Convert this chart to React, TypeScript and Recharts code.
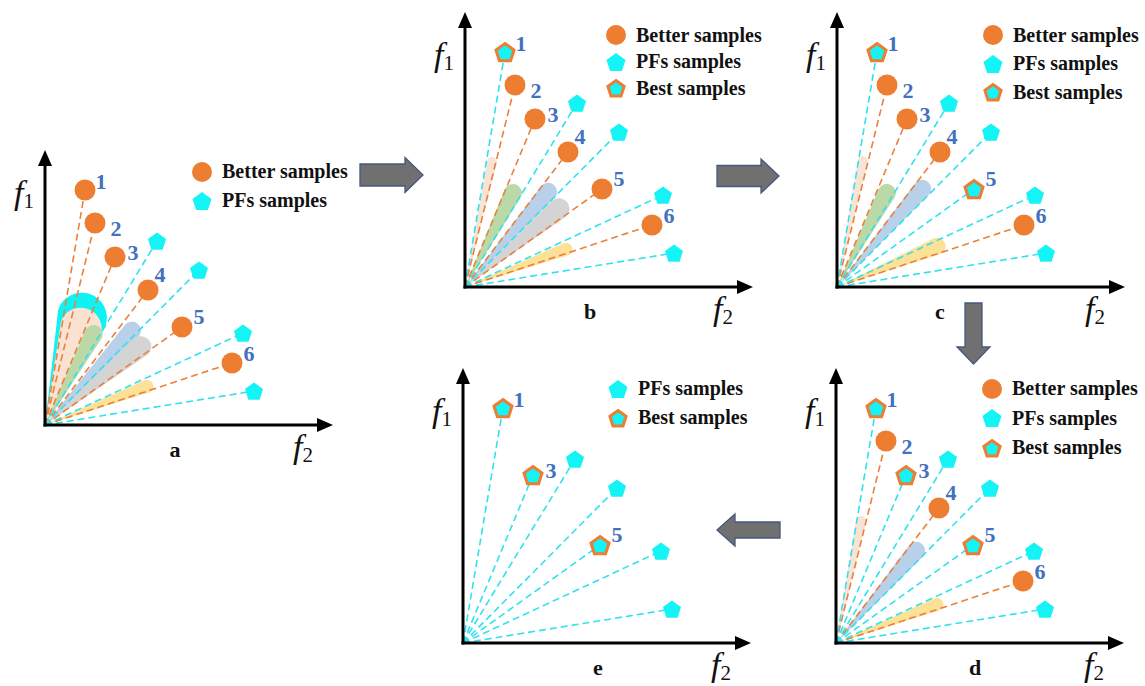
import React from "react";
import { ScatterChart, Scatter, XAxis, YAxis, ReferenceLine, Legend } from "recharts";

// candidate samples, in each panel's own (f2, f1) frame
const SAMPLE_IDS = [1, 2, 3, 4, 5, 6];
const SAMPLE_F2 = [40, 50, 70, 103, 137, 187];
const SAMPLE_F1 = [235, 202, 168, 135, 98, 62];

// Pareto-front reference samples
const PF_F2 = [112, 154, 198, 209];
const PF_F1 = [184, 155, 92, 34];

const PANEL_KEYS = ["a", "b", "c", "d", "e"] as const;
type PanelKey = (typeof PANEL_KEYS)[number];

const BETTER_IDS: Record<PanelKey, number[]> = {
  a: [1, 2, 3, 4, 5, 6],
  b: [2, 3, 4, 5, 6],
  c: [2, 3, 4, 6],
  d: [2, 4, 6],
  e: [],
};

const BEST_IDS: Record<PanelKey, number[]> = {
  a: [],
  b: [1],
  c: [1, 5],
  d: [1, 3, 5],
  e: [1, 3, 5],
};

const LEGEND_ITEMS: Record<PanelKey, string[]> = {
  a: ["Better samples", "PFs samples"],
  b: ["Better samples", "PFs samples", "Best samples"],
  c: ["Better samples", "PFs samples", "Best samples"],
  d: ["Better samples", "PFs samples", "Best samples"],
  e: ["PFs samples", "Best samples"],
};

// shaded search regions, given by the tip of each petal
type Petal = { kind: string; f2: number; f1: number };
const PETALS: Record<PanelKey, Petal[]> = {
  a: [
    { kind: "cyanFan", f2: 45, f1: 131 },
    { kind: "peachFan", f2: 43, f1: 116 },
    { kind: "green", f2: 53, f1: 99 },
    { kind: "blue", f2: 93, f1: 101 },
    { kind: "gray", f2: 104, f1: 85 },
    { kind: "yellow", f2: 108, f1: 41 },
  ],
  b: [
    { kind: "peach", f2: 28, f1: 130 },
    { kind: "green", f2: 52, f1: 102 },
    { kind: "blue", f2: 89, f1: 102 },
    { kind: "gray", f2: 102, f1: 85 },
    { kind: "yellow", f2: 107, f1: 40 },
  ],
  c: [
    { kind: "peach", f2: 27, f1: 131 },
    { kind: "green", f2: 54, f1: 102 },
    { kind: "blue", f2: 91, f1: 105 },
    { kind: "yellowWide", f2: 108, f1: 44 },
  ],
  d: [
    { kind: "peach", f2: 26, f1: 127 },
    { kind: "blue", f2: 86, f1: 99 },
    { kind: "yellow", f2: 107, f1: 41 },
  ],
  e: [],
};

const PETAL_STYLE: Record<string, { fill: string; width: number }> = {
  cyanFan: { fill: "#0FF2F4", width: 50 },
  peachFan: { fill: "#F9E2D2", width: 42 },
  peach: { fill: "#F8E3D4", width: 10 },
  green: { fill: "#BBD9A6", width: 18 },
  blue: { fill: "#B9D0EA", width: 18 },
  gray: { fill: "#D4D4D4", width: 21 },
  yellow: { fill: "#FCE196", width: 13 },
  yellowWide: { fill: "#FCE196", width: 17 },
};

// where each panel's origin sits on the page, plus its legend / caption placement
const PANEL_LAYOUT: Record<PanelKey, { ox: number; oy: number; legendX: number; legendY: number; rowGap: number; letterDx: number }> = {
  a: { ox: 45, oy: 425, legendX: 190, legendY: 157, rowGap: 29, letterDx: 130 },
  b: { ox: 465, oy: 287, legendX: 604, legendY: 22, rowGap: 26.5, letterDx: 125 },
  c: { ox: 837, oy: 287, legendX: 981, legendY: 21, rowGap: 28.5, letterDx: 103 },
  d: { ox: 836, oy: 643, legendX: 980, legendY: 374, rowGap: 29.5, letterDx: 139 },
  e: { ox: 463, oy: 643, legendX: 606, legendY: 374, rowGap: 29, letterDx: 135 },
};

// number label offset from the marker centre, by sample id
const LABEL_OFFSET: Record<number, [number, number]> = {
  1: [16, -9],
  2: [21, 5],
  3: [18, -5],
  4: [12, -16],
  5: [17, -11],
  6: [17, -10],
};

const X_MAX = 300;
const Y_MAX = 285;
const X_AXIS_LEN = 288;
const Y_AXIS_LEN = 275;
const ML = 40;
const MR = 10;
const MT = 0;
const MB = 45;
const CHART_W = ML + X_MAX + MR;
const CHART_H = MT + Y_MAX + MB;

const SERIF = '"Liberation Serif", "Times New Roman", serif';
const ORANGE = "#ED7D31";
const ORANGE_LINE = "#E8823C";
const CYAN = "#14F3F6";
const CYAN_LINE = "#30E2EE";
const LABEL_BLUE = "#4470C0";

const samplePoint = (id: number) => {
  const i = SAMPLE_IDS.indexOf(id);
  return { id, f2: SAMPLE_F2[i], f1: SAMPLE_F1[i] };
};
const pfPoints = PF_F2.map((f2, i) => ({ id: 0, f2, f1: PF_F1[i] }));

const pentagonPoints = (cx: number, cy: number, r: number) =>
  Array.from({ length: 5 }, (_, i) => {
    const a = -Math.PI / 2 + (i * 2 * Math.PI) / 5;
    return `${cx + r * Math.cos(a)},${cy + r * Math.sin(a)}`;
  }).join(" ");

const SampleLabel = ({ cx, cy, id }: { cx: number; cy: number; id: number }) => {
  const [dx, dy] = LABEL_OFFSET[id];
  return (
    <text
      x={cx + dx}
      y={cy + dy}
      textAnchor="middle"
      dominantBaseline="central"
      fontFamily={SERIF}
      fontWeight={700}
      fontSize={22}
      fill={LABEL_BLUE}
    >
      {id}
    </text>
  );
};

const BetterDot = (props: any) => {
  const { cx, cy, payload } = props;
  return (
    <g>
      <circle cx={cx} cy={cy} r={10.5} fill={ORANGE} />
      <SampleLabel cx={cx} cy={cy} id={payload.id} />
    </g>
  );
};

const PfPentagon = (props: any) => {
  const { cx, cy } = props;
  return <polygon points={pentagonPoints(cx, cy + 1, 9.5)} fill={CYAN} />;
};

const BestPentagon = (props: any) => {
  const { cx, cy, payload } = props;
  return (
    <g>
      <polygon points={pentagonPoints(cx, cy + 1, 9.5)} fill={CYAN} stroke={ORANGE} strokeWidth={3} strokeLinejoin="miter" />
      <SampleLabel cx={cx} cy={cy} id={payload.id} />
    </g>
  );
};

// rounded petal from the origin (x1,y1) out to its tip (x2,y2)
const petalShape = (fill: string, width: number) => (props: any) => {
  const { x1, y1, x2, y2 } = props;
  const dx = x2 - x1;
  const dy = y2 - y1;
  const len = Math.hypot(dx, dy);
  const ux = dx / len;
  const uy = dy / len;
  const r = width / 2;
  const cx = x1 + ux * (len - r);
  const cy = y1 + uy * (len - r);
  const nx = -uy;
  const ny = ux;
  const d = `M${x1},${y1} L${cx + nx * r},${cy + ny * r} A${r},${r} 0 0 0 ${cx - nx * r},${cy - ny * r} Z`;
  return <path d={d} fill={fill} />;
};

// axis line with a filled arrow head at (x2,y2)
const axisShape = (props: any) => {
  const { x1, y1, x2, y2 } = props;
  const dx = x2 - x1;
  const dy = y2 - y1;
  const len = Math.hypot(dx, dy);
  const ux = dx / len;
  const uy = dy / len;
  const nx = -uy;
  const ny = ux;
  const hl = 16;
  const hw = 7;
  const bx = x2 - ux * hl;
  const by = y2 - uy * hl;
  return (
    <g>
      <line x1={x1 - ux * 1.5} y1={y1 - uy * 1.5} x2={x2 - ux * 8} y2={y2 - uy * 8} stroke="#000" strokeWidth={3} />
      <polygon points={`${x2},${y2} ${bx + nx * hw},${by + ny * hw} ${bx - nx * hw},${by - ny * hw}`} fill="#000" />
    </g>
  );
};

const LegendIcon = ({ name }: { name: string }) => {
  if (name === "Better samples") return <circle cx={12} cy={12} r={10} fill={ORANGE} />;
  if (name === "PFs samples") return <polygon points={pentagonPoints(12, 13, 10)} fill={CYAN} />;
  return <polygon points={pentagonPoints(12, 13, 8.5)} fill={CYAN} stroke={ORANGE} strokeWidth={3} />;
};

const renderLegend = (items: string[], rowGap: number) => () => (
  <div style={{ fontFamily: SERIF, fontWeight: 700, fontSize: 20, color: "#111" }}>
    {items.map((name) => (
      <div key={name} style={{ display: "flex", alignItems: "center", height: rowGap, whiteSpace: "nowrap" }}>
        <svg width={24} height={24}>
          <LegendIcon name={name} />
        </svg>
        <span style={{ marginLeft: 8 }}>{name}</span>
      </div>
    ))}
  </div>
);

const AxisTitle = ({ left, top, sub }: { left: number; top: number; sub: string }) => (
  <div
    style={{
      position: "absolute",
      left,
      top,
      transform: "translate(-50%, -50%)",
      fontFamily: SERIF,
      fontSize: 34,
      lineHeight: 1,
      color: "#111",
      whiteSpace: "nowrap",
    }}
  >
    <i>f</i>
    <span style={{ fontSize: 21, position: "relative", top: 4 }}>{sub}</span>
  </div>
);

function Panel({ k }: { k: PanelKey }) {
  const lay = PANEL_LAYOUT[k];
  const left = lay.ox - ML;
  const top = lay.oy - Y_MAX - MT;
  const better = BETTER_IDS[k].map(samplePoint);
  const best = BEST_IDS[k].map(samplePoint);
  const rays = [
    ...better.map((p) => ({ ...p, stroke: ORANGE_LINE })),
    ...pfPoints.map((p) => ({ ...p, stroke: CYAN_LINE })),
    ...best.map((p) => ({ ...p, stroke: CYAN_LINE })),
  ];
  return (
    <div style={{ position: "absolute", left, top, width: CHART_W, height: CHART_H }}>
      <ScatterChart width={CHART_W} height={CHART_H} margin={{ top: MT, right: MR, bottom: MB, left: ML }}>
        <XAxis type="number" dataKey="f2" domain={[0, X_MAX]} hide />
        <YAxis type="number" dataKey="f1" domain={[0, Y_MAX]} hide />
        {PETALS[k].map((p, i) => (
          <ReferenceLine
            key={`petal-${i}`}
            segment={[{ x: 0, y: 0 }, { x: p.f2, y: p.f1 }]}
            ifOverflow="visible"
            shape={petalShape(PETAL_STYLE[p.kind].fill, PETAL_STYLE[p.kind].width)}
          />
        ))}
        {rays.map((p, i) => (
          <ReferenceLine
            key={`ray-${i}`}
            segment={[{ x: 0, y: 0 }, { x: p.f2, y: p.f1 }]}
            ifOverflow="visible"
            stroke={p.stroke}
            strokeWidth={1.6}
            strokeDasharray="7 4"
          />
        ))}
        <ReferenceLine segment={[{ x: 0, y: 0 }, { x: X_AXIS_LEN, y: 0 }]} ifOverflow="visible" shape={axisShape} />
        <ReferenceLine segment={[{ x: 0, y: 0 }, { x: 0, y: Y_AXIS_LEN }]} ifOverflow="visible" shape={axisShape} />
        {better.length > 0 && (
          <Scatter name="Better samples" data={better} shape={BetterDot} isAnimationActive={false} />
        )}
        <Scatter name="PFs samples" data={pfPoints} shape={PfPentagon} isAnimationActive={false} />
        {best.length > 0 && <Scatter name="Best samples" data={best} shape={BestPentagon} isAnimationActive={false} />}
        <Legend
          layout="vertical"
          align="center"
          verticalAlign="middle"
          content={renderLegend(LEGEND_ITEMS[k], lay.rowGap)}
          wrapperStyle={{ left: lay.legendX - left, top: lay.legendY - top, width: 200 }}
        />
      </ScatterChart>
      <AxisTitle left={ML - 21} top={MT + Y_MAX - 232} sub="1" />
      <AxisTitle left={ML + 258} top={MT + Y_MAX + 22} sub="2" />
      <div
        style={{
          position: "absolute",
          left: ML + lay.letterDx,
          top: MT + Y_MAX + 25,
          transform: "translate(-50%, -50%)",
          fontFamily: SERIF,
          fontWeight: 700,
          fontSize: 22,
          color: "#111",
        }}
      >
        {k}
      </div>
    </div>
  );
}

// grey block arrows between panels: tail point, direction, length
const FLOW_ARROWS = [
  { x: 360, y: 175, rot: 0, len: 63, bh: 11, hh: 17.5, hl: 18 },
  { x: 717, y: 176, rot: 0, len: 62, bh: 10.5, hh: 17, hl: 18 },
  { x: 973.5, y: 303, rot: 90, len: 61, bh: 8.5, hh: 16.5, hl: 17 },
  { x: 780, y: 530, rot: 180, len: 63, bh: 8, hh: 16, hl: 18 },
];

function FlowArrows() {
  return (
    <svg width={1145} height={686} style={{ position: "absolute", left: 0, top: 0, pointerEvents: "none" }}>
      {FLOW_ARROWS.map((a, i) => {
        const { x, y, len, bh, hh, hl } = a;
        const pts = [
          [x, y - bh],
          [x + len - hl, y - bh],
          [x + len - hl, y - hh],
          [x + len, y],
          [x + len - hl, y + hh],
          [x + len - hl, y + bh],
          [x, y + bh],
        ]
          .map((p) => p.join(","))
          .join(" ");
        return (
          <polygon
            key={i}
            points={pts}
            transform={`rotate(${a.rot} ${x} ${y})`}
            fill="#707070"
            stroke="#44587E"
            strokeWidth={1.3}
          />
        );
      })}
    </svg>
  );
}

export default function App() {
  return (
    <div style={{ position: "absolute", left: 0, top: 0, width: 1145, height: 686, background: "#fff", overflow: "hidden" }}>
      {PANEL_KEYS.map((k) => (
        <Panel key={k} k={k} />
      ))}
      <FlowArrows />
    </div>
  );
}
